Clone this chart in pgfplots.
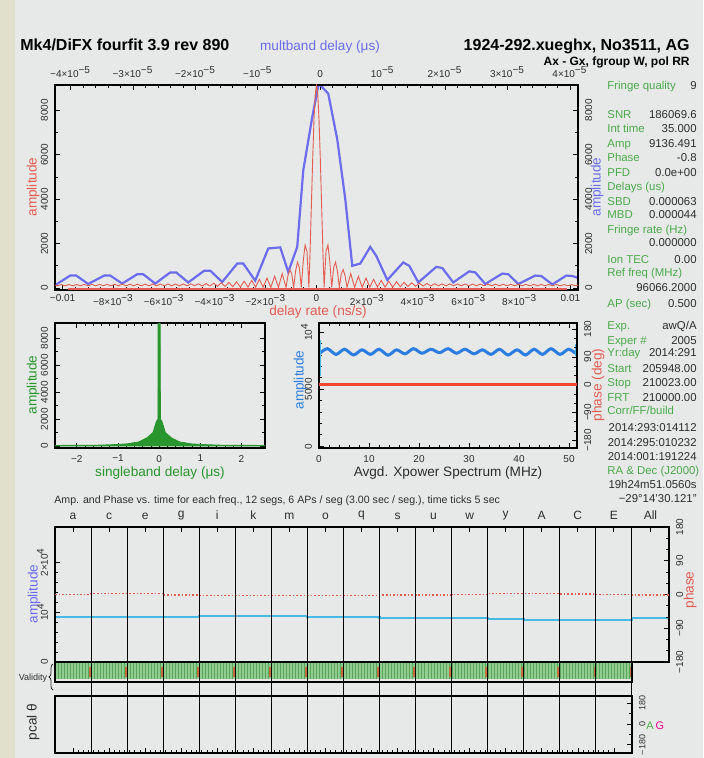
\documentclass[border=0pt]{standalone}
\usepackage{pgfplots}
\pgfplotsset{compat=1.18}
\usepackage{fontspec}
\setmainfont{Liberation Sans}
\usetikzlibrary{decorations.pathreplacing}

\definecolor{bgc}{RGB}{230,233,231}
\definecolor{strip}{RGB}{224,224,204}
\definecolor{cred}{RGB}{228,92,82}
\definecolor{cblue}{RGB}{108,108,238}
\definecolor{cgreen}{RGB}{40,150,45}
\definecolor{tgreen}{RGB}{75,170,75}
\definecolor{vblack}{RGB}{45,45,45}
\definecolor{xblue}{RGB}{45,125,225}
\definecolor{xred}{RGB}{240,72,48}
\definecolor{cyan2}{RGB}{70,185,228}
\definecolor{vgreen}{RGB}{145,205,145}
\definecolor{vline}{RGB}{90,165,90}
\definecolor{borange}{RGB}{190,115,60}

\newcommand\fa{\fontsize{6.8}{8}\selectfont}
\newcommand\ft{\fontsize{5}{6}\selectfont}
\newcommand\fin{\fontsize{5.7}{7}\selectfont}
\newcommand\sx[1]{\textsuperscript{#1}}
\newcommand\row[3]{%
  \node[anchor=base west, text=tgreen, font=\fin, inner sep=0pt] at (607,#1) {#2};%
  \node[anchor=base east, text=vblack, font=\fin, inner sep=0pt] at (697,#1) {#3};}

\pgfplotsset{
  ff/.style={
    scale only axis,
    axis line style={line width=0.6pt, black},
    tick style={line width=0.4pt, black},
    tick align=inside,
    major tick length=2.6pt, minor tick length=1.4pt,
    tick label style={font=\ft, text=vblack},
    /pgf/number format/assume math mode=true,
    /pgf/number format/1000 sep={},
    scaled ticks=false,
  },
}

\begin{document}
\begin{tikzpicture}[x=0.5pt, y=-0.5pt]
\fill[bgc] (0,0) rectangle (703,758);
\useasboundingbox (0,0) rectangle (703,758);
\fill[strip] (0,0) rectangle (15,758);

% titles
\node[anchor=base west, inner sep=0pt, font=\fontsize{8}{9}\selectfont\bfseries] at (20,51) {Mk4/DiFX fourfit 3.9 rev 890};
\node[anchor=base east, inner sep=0pt, font=\fontsize{8}{9}\selectfont\bfseries] at (690,51) {1924-292.xueghx, No3511, AG};
\node[anchor=base east, inner sep=0pt, font=\fontsize{6}{7}\selectfont\bfseries] at (690,66) {Ax - Gx, fgroup W, pol RR};

% ---------- top panel: multiband delay (blue) ----------
\begin{axis}[ff, at={(27.5pt,-42.5pt)}, anchor=north west,
  width=261.5pt, height=102.5pt,
  xmin=-4.25, xmax=4.13, ymin=-90, ymax=9140,
  xtick={-4,-3,-2,-1,0,1,2,3,4},
  xticklabels={−4×10\sx{−5},−3×10\sx{−5},−2×10\sx{−5},−10\sx{−5},0,10\sx{−5},2×10\sx{−5},3×10\sx{−5},4×10\sx{−5}},
  minor x tick num=4,
  xtick pos=right, xticklabel pos=right,
  ytick={0,2000,4000,6000,8000}, minor y tick num=1,
  ytick pos=right, yticklabel pos=right,
  yticklabel style={rotate=90, anchor=north},
]
\addplot[cblue, line width=1.1pt] coordinates {
(-4.247,130)(-4.006,560)(-3.910,560)(-3.718,180)(-3.462,560)(-3.365,560)
(-3.173,200)(-2.933,620)(-2.837,620)(-2.644,200)(-2.404,700)(-2.308,700)
(-2.115,250)(-1.859,780)(-1.763,780)(-1.571,270)(-1.330,1100)(-1.234,1100)
(-1.042,330)(-0.833,1780)(-0.641,1830)(-0.513,720)(-0.369,1850)(-0.272,5300)
(-0.128,7700)(-0.032,9100)(0,9136)(0.128,8750)(0.272,6700)(0.401,4000)
(0.513,1000)(0.641,1100)(0.801,1850)(0.897,1450)(1.074,360)(1.330,1150)
(1.426,1000)(1.571,250)(1.859,950)(1.955,900)(2.131,250)(2.388,750)
(2.484,700)(2.644,180)(2.917,650)(3.013,620)(3.173,180)(3.446,560)
(3.542,540)(3.718,160)(3.942,560)(4.038,540)(4.135,450)};
\end{axis}

% ---------- top panel: delay rate (red) ----------
\begin{axis}[ff, at={(27.5pt,-42.5pt)}, anchor=north west,
  width=261.5pt, height=102.5pt,
  xmin=-10.3, xmax=10.3, ymin=-90, ymax=9140,
  xtick={-10,-8,-6,-4,-2,0,2,4,6,8,10},
  xticklabels={−0.01,−8×10\sx{−3},−6×10\sx{−3},−4×10\sx{−3},−2×10\sx{−3},0,2×10\sx{−3},4×10\sx{−3},6×10\sx{−3},8×10\sx{−3},0.01},
  xticklabel style={yshift=1.2pt},
  minor x tick num=3, xtick pos=left,
  ytick={0,2000,4000,6000,8000}, minor y tick num=1, ytick pos=left,
  yticklabel style={rotate=90, anchor=south},
]
\addplot[cred, line width=1.3pt] coordinates {(-9.8,-45)(9.85,-45)};
\addplot[cred, line width=0.45pt] coordinates {
(-10.35,150)(-10.2,100)(-10.05,152)(-9.9,100)(-9.75,154)(-9.6,100)(-9.45,156)(-9.3,100)
(-9.15,158)(-9.0,100)(-8.85,160)(-8.7,100)(-8.55,162)(-8.4,100)(-8.25,164)(-8.1,100)
(-7.95,166)(-7.8,100)(-7.65,168)(-7.5,100)(-7.35,170)(-7.2,100)(-7.05,172)(-6.9,100)
(-6.75,174)(-6.6,100)(-6.45,176)(-6.3,100)(-6.15,178)(-6.0,100)(-5.85,180)(-5.7,100)
(-5.55,182)(-5.4,100)(-5.25,184)(-5.1,100)(-4.95,186)(-4.8,100)(-4.65,190)(-4.5,90)
(-4.35,201)(-4.2,90)(-4.05,215)(-3.9,80)(-3.75,233)(-3.6,70)(-3.45,253)(-3.3,60)
(-3.15,277)(-3.0,40)(-2.85,306)(-2.7,40)(-2.55,342)(-2.4,40)(-2.25,388)(-2.1,40)
(-1.95,447)(-1.8,30)(-1.65,529)(-1.5,30)(-1.35,646)(-1.2,30)(-1.125,548)(-1.05,831)
(-0.975,632)(-0.9,30)(-0.825,748)(-0.75,1163)(-0.675,914)(-0.6,30)(-0.525,1175)
(-0.45,1939)(-0.375,1645)(-0.3,30)(-0.25,1745)(-0.2,3775)(-0.15,5816)(-0.1,7555)
(-0.05,8724)(0,9136)(0.05,8724)(0.1,7555)(0.15,5816)(0.2,3775)(0.25,1745)(0.3,30)
(0.375,1645)(0.45,1939)(0.525,1175)(0.6,30)(0.675,914)(0.75,1163)(0.825,748)(0.9,30)
(0.975,632)(1.05,831)(1.125,548)(1.2,30)(1.35,646)(1.5,30)(1.65,529)(1.8,30)
(1.95,447)(2.1,40)(2.25,388)(2.4,40)(2.55,342)(2.7,40)(2.85,306)(3.0,40)
(3.15,277)(3.3,60)(3.45,253)(3.6,70)(3.75,233)(3.9,80)(4.05,215)(4.2,90)
(4.35,201)(4.5,90)(4.65,190)(4.8,100)(4.95,186)(5.1,100)(5.25,184)(5.4,100)
(5.55,182)(5.7,100)(5.85,180)(6.0,100)(6.15,178)(6.3,100)(6.45,176)(6.6,100)
(6.75,174)(6.9,100)(7.05,172)(7.2,100)(7.35,170)(7.5,100)(7.65,168)(7.8,100)
(7.95,166)(8.1,100)(8.25,164)(8.4,100)(8.55,162)(8.7,100)(8.85,160)(9.0,100)
(9.15,158)(9.3,100)(9.45,156)(9.6,100)(9.75,154)(9.9,100)(10.05,152)(10.2,100)(10.35,150)};
\end{axis}

% ---------- singleband delay ----------
\begin{axis}[ff, at={(27.5pt,-161.5pt)}, anchor=north west,
  width=105pt, height=62.5pt,
  xmin=-2.53, xmax=2.57, ymin=-150, ymax=9140,
  xtick={-2,-1,0,1,2}, xticklabels={−2,−1,0,1,2}, minor x tick num=4,
  ytick={0,2000,4000,6000,8000}, minor y tick num=1,
  yticklabel style={rotate=90, anchor=south},
]
\addplot[cgreen, fill=cgreen, line width=0.4pt] coordinates {
(-2.53,40)(-2,50)(-1.5,60)(-1.2,90)(-0.8,150)(-0.5,300)(-0.3,600)(-0.15,1000)
(-0.07,1800)(-0.03,2000)(-0.025,9136)(0.025,9136)(0.03,2000)(0.07,1800)
(0.15,1000)(0.3,600)(0.5,300)(0.8,150)(1.2,90)(1.5,60)(2,50)(2.57,40)} \closedcycle;
\end{axis}

% ---------- Xpower spectrum: amplitude ----------
\begin{axis}[ff, at={(159.5pt,-161.5pt)}, anchor=north west,
  width=129pt, height=62.5pt,
  xmin=0, xmax=51.6, ymin=-150, ymax=10800,
  xtick={0,10,20,30,40,50}, minor x tick num=4,
  ytick={0,5000,10000}, yticklabels={0,5000,10\sx{4}}, minor y tick num=4,
  ytick pos=left,
  yticklabel style={rotate=90, anchor=south},
]
\addplot[xblue, line width=1.5pt, smooth] coordinates {
(0.3,8200)(1.7,8550)(3.4,8050)(5.1,8500)(6.9,8000)(8.6,8450)(10.3,8050)(12.0,8500)
(13.8,7980)(15.5,8450)(17.2,8100)(18.9,8550)(20.6,8150)(22.4,8500)(24.1,8200)(25.8,8550)
(27.5,8150)(29.2,8500)(31.0,8100)(32.7,8450)(34.4,8050)(36.1,8500)(37.8,8000)(39.6,8450)
(41.3,8000)(43.0,8500)(44.7,8050)(46.4,8550)(48.2,8050)(49.9,8500)(51.3,8150)};
\addplot[cyan2, line width=0.9pt] coordinates {(0.2,6200)(0.2,9300)};
\addplot[cyan2, line width=0.9pt] coordinates {(51.3,7900)(51.3,9000)};
\end{axis}

% ---------- Xpower spectrum: phase ----------
\begin{axis}[ff, at={(159.5pt,-161.5pt)}, anchor=north west,
  width=129pt, height=62.5pt,
  xmin=0, xmax=51.6, ymin=-205, ymax=200,
  xtick=\empty,
  ytick={-180,-90,0,90,180}, yticklabels={−180,−90,0,90,180}, minor y tick num=2,
  ytick pos=right, yticklabel pos=right,
  yticklabel style={rotate=90, anchor=north},
]
\addplot[xred, line width=1.4pt] coordinates {(0,0)(51.6,0)};
\end{axis}

% ---------- per-channel amplitude ----------
\begin{axis}[ff, at={(27.5pt,-263.5pt)}, anchor=north west,
  width=307pt, height=67.5pt,
  xmin=0, xmax=17.03, ymin=0, ymax=27000,
  xtick={0.5,1.5,2.5,3.5,4.5,5.5,6.5,7.5,8.5,9.5,10.5,11.5,12.5,13.5,14.5,15.5,16.515},
  xticklabels={a,c,e,g,i,k,m,o,q,s,u,w,y,A,C,E,All},
  xtick pos=right, xticklabel pos=right, minor x tick num=6,
  xticklabel style={font=\fontsize{6}{7}\selectfont},
  ytick={0,10000,20000}, yticklabels={0,10\sx{4},2×10\sx{4}}, minor y tick num=4,
  ytick pos=left,
  yticklabel style={rotate=90, anchor=south},
]
\addplot[cyan2, line width=1.1pt, const plot] coordinates {
(0,9060)(1,9060)(2,9060)(3,9060)(4,9200)(5,9200)(6,9200)(7,9060)(8,9060)
(9,8860)(10,8740)(11,8740)(12,8600)(13,8400)(14,8400)(15,8400)(16,8860)(17.03,8860)};
\end{axis}

% ---------- per-channel phase ----------
\begin{axis}[ff, at={(27.5pt,-263.5pt)}, anchor=north west,
  width=307pt, height=67.5pt,
  xmin=0, xmax=17.03, ymin=-180, ymax=180,
  xtick=\empty,
  ytick={-180,-90,0,90,180}, yticklabels={−180,−90,0,90,180}, minor y tick num=2,
  ytick pos=right, yticklabel pos=right,
  yticklabel style={rotate=90, anchor=north},
]
\addplot[cred, line width=0.8pt, densely dotted, const plot] coordinates {
(0,0)(1,3)(2,3)(3,-2)(4,-3)(5,-3)(6,-3)(7,-3)(8,-3)(9,-2)(10,-1)(11,0)
(12,3)(13,3)(14,2)(15,0)(16,-1)(17.03,-1)};
\end{axis}

% ---------- validity ----------
\begin{axis}[ff, at={(27.5pt,-331.5pt)}, anchor=north west,
  width=288.5pt, height=8pt,
  xmin=0, xmax=16, ymin=0, ymax=1,
  axis background/.style={fill=vgreen},
  axis line style={draw=none},
  xtick={0,0.0833333,...,16}, xticklabels={}, major tick length=0pt,
  xmajorgrids, grid style={vline, line width=0.15pt},
  ytick=\empty,
]
\addplot[only marks, mark=|, mark size=2.6pt, mark options={line width=1pt, draw=borange}] coordinates {
(0.96,0.45)(1.96,0.45)(2.96,0.45)(3.96,0.45)(4.96,0.45)(5.96,0.45)(6.96,0.45)(7.96,0.45)
(8.96,0.45)(9.96,0.45)(10.96,0.45)(11.96,0.45)(12.96,0.45)(13.96,0.45)(14.96,0.45)(15.96,0.45)};
\end{axis}
\begin{axis}[ff, at={(27.5pt,-331pt)}, anchor=north west,
  width=288.5pt, height=10pt,
  xmin=0, xmax=16, ymin=0, ymax=1, xtick=\empty, ytick=\empty,
]
\end{axis}

% ---------- pcal ----------
\begin{axis}[ff, at={(27.5pt,-348pt)}, anchor=north west,
  width=288.5pt, height=28.5pt,
  xmin=0, xmax=16, ymin=-250, ymax=240,
  xtick={0.5,1.5,2.5,3.5,4.5,5.5,6.5,7.5,8.5,9.5,10.5,11.5,12.5,13.5,14.5,15.5},
  xticklabels={}, xtick pos=left, minor x tick num=6,
  ytick={-180,0,180}, yticklabels={−180,0,180}, minor y tick num=1,
  ytick pos=right, yticklabel pos=right,
  yticklabel style={rotate=90, anchor=north, font=\fontsize{4.5}{5}\selectfont},
]
\end{axis}

% ---------- channel dividers ----------
\begin{axis}[ff, at={(27.5pt,-263.5pt)}, anchor=north west,
  width=307pt, height=113pt,
  xmin=0, xmax=17.03, ymin=0, ymax=1,
  axis line style={draw=none},
  xtick={1,2,3,4,5,6,7,8,9,10,11,12,13,14,15,16}, xticklabels={}, major tick length=0pt,
  xmajorgrids, grid style={black, line width=0.55pt},
  ytick=\empty,
]
\end{axis}

% axis labels
\node[text=cblue, font=\fa] at (320,47) {multband delay (μs)};
\node[text=cred, font=\fa] at (318,312) {delay rate (ns/s)};
\node[rotate=90, text=cred, font=\fa] at (33,187) {amplitude};
\node[rotate=90, text=cblue, font=\fa] at (597,187) {amplitude};
\node[rotate=90, text=cgreen, font=\fa] at (33,385) {amplitude};
\node[text=cgreen, font=\fa] at (160,473) {singleband delay (μs)};
\node[rotate=90, text=xblue, font=\fa] at (300,380) {amplitude};
\node[rotate=90, text=cred, font=\fa] at (598,385) {phase (deg)};
\node[text=vblack, font=\fa] at (448,473) {Avgd. Xpower Spectrum (MHz)};
\node[anchor=west, inner sep=0pt, text=vblack, font=\fontsize{5.3}{6}\selectfont] at (54,501)
  {Amp. and Phase vs. time for each freq., 12 segs, 6 APs / seg (3.00 sec / seg.), time ticks 5 sec};
\node[rotate=90, text=cblue, font=\fa] at (34,594) {amplitude};
\node[rotate=90, text=cred, font=\fa] at (690,590) {phase};
\node[text=vblack, font=\fontsize{4.5}{5}\selectfont] at (33,678) {Validity};
\draw[vblack, line width=0.4pt, decorate, decoration={brace, amplitude=2pt}] (53,690) -- (53,664);
\node[rotate=90, text=vblack, font=\fa] at (33,722) {pcal θ};
\node[text=tgreen, font=\fontsize{5.5}{6}\selectfont] at (650,726) {A};
\node[text=magenta, font=\fontsize{5.5}{6}\selectfont] at (660,726) {G};

% info panel
\row{90}{Fringe quality}{9}
\row{119}{SNR}{186069.6}
\row{133}{Int time}{35.000}
\row{148}{Amp}{9136.491}
\row{162}{Phase}{-0.8}
\row{177}{PFD}{0.0e+00}
\row{191}{Delays (us)}{}
\row{206}{SBD}{0.000063}
\row{219}{MBD}{0.000044}
\row{234}{Fringe rate (Hz)}{}
\row{247}{}{0.000000}
\row{264}{Ion TEC}{0.00}
\row{277}{Ref freq (MHz)}{}
\row{292}{}{96066.2000}
\row{307}{AP (sec)}{0.500}
\row{329}{Exp.}{awQ/A}
\row{344}{Exper \#}{2005}
\row{357}{Yr:day}{2014:291}
\row{372}{Start}{205948.00}
\row{386}{Stop}{210023.00}
\row{401}{FRT}{210000.00}
\row{414}{Corr/FF/build}{}
\row{431}{}{2014:293:014112}
\row{446}{}{2014:295:010232}
\row{460}{}{2014:001:191224}
\row{474}{RA \& Dec (J2000)}{}
\row{488}{}{19h24m51.0560s}
\row{502}{}{−29°14'30.121"}
\end{tikzpicture}
\end{document}
